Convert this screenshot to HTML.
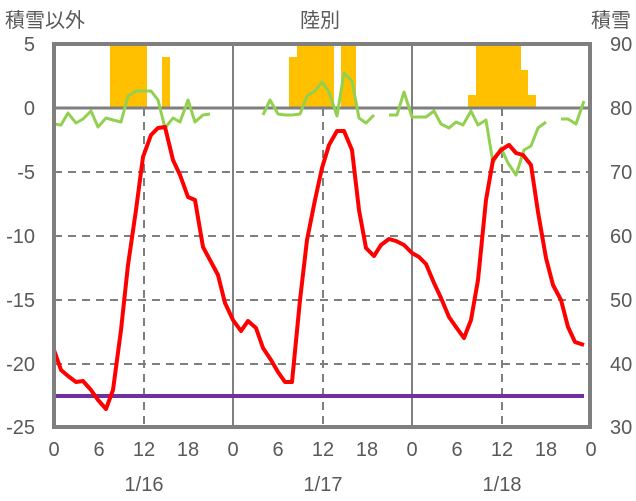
<!DOCTYPE html>
<html><head><meta charset="utf-8"><style>body{margin:0;background:#fff}svg{display:block}text{font-family:"Liberation Sans","Noto Sans CJK JP",sans-serif;fill:#595959}</style></head><body>
<svg width="636" height="501" viewBox="0 0 636 501">
<text x="5" y="27" font-size="20">積雪以外</text>
<text x="320" y="27" font-size="20" text-anchor="middle">陸別</text>
<text x="631" y="27" font-size="20" text-anchor="end">積雪</text>
<g fill="#FFC000">
<rect x="110" y="44" width="37" height="64"/><rect x="162" y="57" width="8" height="51"/>
<rect x="289" y="57" width="8" height="51"/><rect x="297" y="44" width="37" height="64"/><rect x="341" y="44" width="15" height="64"/>
<rect x="468" y="95" width="8" height="13"/><rect x="476" y="44" width="45" height="64"/><rect x="521" y="70" width="7" height="38"/><rect x="528" y="95" width="8" height="13"/>
</g>
<g stroke="#7f7f7f" stroke-width="2" stroke-dasharray="8,6">
<line x1="54" y1="172" x2="590" y2="172"/><line x1="54" y1="236" x2="590" y2="236"/><line x1="54" y1="300" x2="590" y2="300"/><line x1="54" y1="364" x2="590" y2="364"/>
<line x1="144" y1="108" x2="144" y2="427"/><line x1="323" y1="108" x2="323" y2="427"/><line x1="502" y1="108" x2="502" y2="427"/>
</g>
<g stroke="#7f7f7f" stroke-width="2"><line x1="233" y1="44" x2="233" y2="427"/><line x1="412" y1="44" x2="412" y2="427"/></g>
<line x1="54" y1="108" x2="590" y2="108" stroke="#7f7f7f" stroke-width="3"/>
<line x1="54" y1="396" x2="584" y2="396" stroke="#7030A0" stroke-width="4"/>
<g fill="none" stroke="#92D050" stroke-width="3" stroke-linejoin="round">
<polyline points="54,124 61,125 68,113 76,123 83,119 91,111 98,127 106,118 113,120 121,122 128,96 136,91 143,91 151,91 158,100 165,128 173,118 180,122 188,100 195,122 203,115 210,114"/>
<polyline points="263,115 270,100 278,114 285,115 292,115 300,114 307,96 315,91 322,82 329,92 337,116 344,73 352,81 359,118 366,123 374,115"/>
<polyline points="389,115 397,115 404,92 412,117 419,117 426,117 434,111 441,124 449,128 456,122 463,125 471,111 478,125 486,120 493,163 501,148 508,163 516,175 524,150 531,146 538,128 546,122"/>
<polyline points="561,119 568,119 576,124 584,101"/>
</g>
<polyline fill="none" stroke="#FF0000" stroke-width="4" stroke-linejoin="round" points="54,350 61,370 68,376 76,382 83,381 91,390 98,400 106,409 113,390 121,330 128,265 136,210 143,157 151,135 158,128 165,127 173,160 180,175 188,197 195,200 203,247 210,260 218,275 225,303 233,320 241,331 248,321 256,328 263,348 271,360 278,372 285,382 292,382 300,300 307,240 315,200 322,168 329,145 337,131 344,131 352,150 359,210 366,248 374,256 381,245 389,239 396,241 404,245 412,253 419,257 426,264 434,283 441,298 449,317 456,327 464,338 471,320 478,280 486,200 493,160 501,150 509,145 516,153 523,155 531,165 538,212 546,258 553,285 561,300 568,327 575,342 584,345"/>
<rect x="54" y="44" width="536" height="383" fill="none" stroke="#7f7f7f" stroke-width="4"/>
<g font-size="20" text-anchor="end">
<text x="35" y="51">5</text><text x="35" y="115">0</text><text x="35" y="179">-5</text><text x="35" y="243">-10</text><text x="35" y="307">-15</text><text x="35" y="371">-20</text><text x="35" y="434">-25</text>
</g>
<g font-size="20">
<text x="610" y="51">90</text><text x="610" y="115">80</text><text x="610" y="179">70</text><text x="610" y="243">60</text><text x="610" y="307">50</text><text x="610" y="371">40</text><text x="610" y="434">30</text>
</g>
<g font-size="20" text-anchor="middle">
<text x="54" y="456">0</text><text x="99" y="456">6</text><text x="144" y="456">12</text><text x="188" y="456">18</text>
<text x="233" y="456">0</text><text x="278" y="456">6</text><text x="323" y="456">12</text><text x="367" y="456">18</text>
<text x="412" y="456">0</text><text x="457" y="456">6</text><text x="502" y="456">12</text><text x="546" y="456">18</text><text x="591" y="456">0</text>
<text x="144" y="491">1/16</text><text x="323" y="491">1/17</text><text x="502" y="491">1/18</text>
</g>
</svg>
</body></html>
